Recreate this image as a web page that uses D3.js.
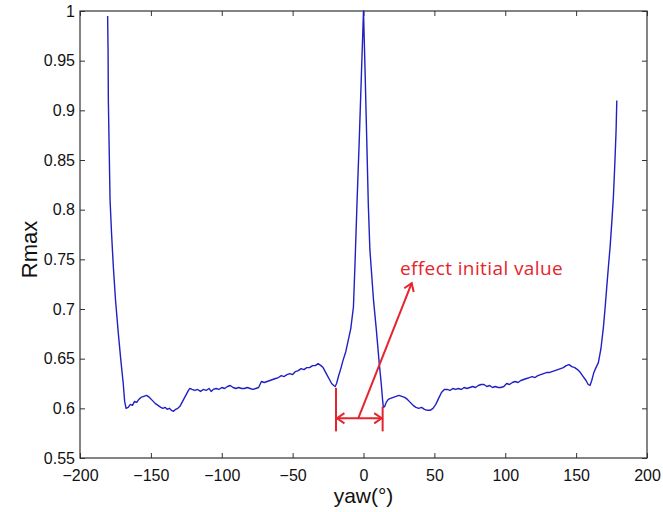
<!DOCTYPE html>
<html>
<head>
<meta charset="utf-8">
<script src="https://cdn.jsdelivr.net/npm/d3@7"></script>
<style>
  body { margin: 0; background: #fff; }
  svg { display: block; font-family: "Liberation Sans", Arial, sans-serif; }
</style>
</head>
<body>
<div class="container"></div>
<script>
const width = 663, height = 512;
const margin = { top: 11, right: 16, bottom: 54, left: 80 };

// yaw (deg) and Rmax
const yaw = [
  -180.5, -180.2, -180, -179.4, -178.8, -177.7, -176.5, -175, -173, -171.3, -169.5, -168.5, -167.5,
  -166, -164.5, -163, -161.5, -160, -158.5, -157, -155, -153, -151, -149, -147, -145, -143, -141.5,
  -140, -138.5, -137, -135.5, -134, -132.5, -131, -129.5, -128, -126.5, -125, -123.5, -122.5, -121,
  -119, -117, -115, -113, -111, -109, -107.5, -106, -104, -102, -100, -98, -96, -94, -92, -90, -88,
  -86, -84, -82, -80, -78, -76, -74, -72, -70, -68, -66, -64, -62, -60, -58, -56, -54, -52, -50,
  -48, -46, -44, -42, -40, -38, -36, -34, -32, -30, -28.5, -27, -25.5, -24, -22.5, -21, -20, -19,
  -17.5, -16, -14.5, -12.5, -10.7, -9, -7.1, -6, -4.5, -3, -1.5, 0, 1.1, 2.3, 3.4, 4.5, 5.5, 7, 9,
  11, 12.5, 13.5, 14, 15, 16, 17.5, 19, 21, 23, 25, 27, 29, 31, 33, 35, 37, 39, 41, 43, 45, 47, 49,
  51, 53, 55, 57, 59, 61, 63, 65, 67, 69, 71, 73, 75, 77, 79, 81, 83, 85, 87, 89, 91, 93, 95, 97,
  99, 101, 103, 105, 107, 109, 111, 113, 115, 117, 119, 121, 123, 125, 127, 129, 131, 133, 135, 137,
  139, 141, 143, 145, 147, 149, 151, 153, 155, 157, 158.5, 159.8, 161, 162.5, 164, 165.7, 167.5,
  169.2, 170.5, 171.6, 172.8, 174, 175.2, 176.3, 177.3, 178.2, 178.7
];
const rmax = [
  0.995, 0.96, 0.91, 0.86, 0.81, 0.775, 0.743, 0.71, 0.676, 0.65, 0.625, 0.607, 0.600,
  0.601, 0.604, 0.603, 0.607, 0.606, 0.609, 0.611, 0.612, 0.613, 0.611, 0.608, 0.605, 0.603, 0.601, 0.600,
  0.601, 0.599, 0.600, 0.598, 0.597, 0.599, 0.600, 0.602, 0.606, 0.610, 0.614, 0.618, 0.620, 0.619,
  0.618, 0.619, 0.617, 0.619, 0.618, 0.620, 0.617, 0.619, 0.620, 0.619, 0.621, 0.620, 0.622, 0.623, 0.621, 0.620, 0.621,
  0.620, 0.620, 0.621, 0.620, 0.619, 0.620, 0.621, 0.627, 0.626, 0.627, 0.628, 0.629, 0.630, 0.631, 0.633, 0.632, 0.634, 0.635, 0.634,
  0.637, 0.638, 0.640, 0.639, 0.641, 0.641, 0.643, 0.643, 0.645, 0.643, 0.641, 0.637, 0.633, 0.629, 0.625, 0.623, 0.622, 0.625,
  0.633, 0.640, 0.648, 0.657, 0.669, 0.680, 0.702, 0.745, 0.81, 0.87, 0.935, 1.0, 0.94, 0.87, 0.805, 0.76, 0.74, 0.71, 0.68,
  0.647, 0.625, 0.608, 0.601, 0.602, 0.606, 0.609, 0.610, 0.611, 0.612, 0.613, 0.612, 0.611, 0.609, 0.606, 0.603, 0.601, 0.600, 0.601, 0.599, 0.598, 0.598, 0.600,
  0.604, 0.610, 0.616, 0.619, 0.619, 0.618, 0.620, 0.619, 0.620, 0.619, 0.621, 0.620, 0.621, 0.622, 0.621, 0.623, 0.624, 0.624, 0.622, 0.623, 0.621, 0.622, 0.621, 0.621,
  0.622, 0.625, 0.624, 0.626, 0.627, 0.626, 0.628, 0.629, 0.630, 0.631, 0.632, 0.631, 0.633, 0.634, 0.635, 0.636, 0.636, 0.637, 0.638, 0.639,
  0.640, 0.641, 0.643, 0.644, 0.642, 0.641, 0.639, 0.636, 0.632, 0.628, 0.624, 0.623, 0.628, 0.636, 0.641, 0.646, 0.660,
  0.681, 0.702, 0.722, 0.743, 0.763, 0.788, 0.813, 0.846, 0.880, 0.910
];

const xTicks = [-200, -150, -100, -50, 0, 50, 100, 150, 200];
const yTicks = [0.55, 0.6, 0.65, 0.7, 0.75, 0.8, 0.85, 0.9, 0.95, 1];

// annotation: bracket ends, arrow start/end, label anchor (data units)
const bracketYaw = [-19.4, 13.5];
const bracketTop = [0.6206, 0.6015];
const bracketBottom = 0.5768;
const bracketLevel = 0.590;
const arrowFrom = [-3.7, 0.590];
const arrowTo = [34, 0.726];
const noteText = "effect initial value";
const notePos = [25.7, 0.7345];

const data = yaw.map((d, i) => ({ x: d, y: rmax[i] }));

const svg = d3.select(".container")
  .append("svg")
  .attr("width", width)
  .attr("height", height);

const x = d3.scaleLinear().domain([-200, 200]).range([margin.left, width - margin.right]);
const y = d3.scaleLinear().domain([0.55, 1]).range([height - margin.bottom, margin.top]);

const axisColor = "#333";
const tick = 5;

svg.append("g")
  .attr("transform", `translate(0,${height - margin.bottom})`)
  .call(d3.axisBottom(x).tickValues(xTicks).tickSizeInner(-tick).tickSizeOuter(0).tickPadding(12))
  .call(g => g.select(".domain").remove());

svg.append("g")
  .attr("transform", `translate(0,${margin.top})`)
  .call(d3.axisTop(x).tickValues(xTicks).tickSizeInner(-tick).tickSizeOuter(0).tickFormat(""))
  .call(g => g.select(".domain").remove());

svg.append("g")
  .attr("transform", `translate(${margin.left},0)`)
  .call(d3.axisLeft(y).tickValues(yTicks).tickSizeInner(-tick).tickSizeOuter(0).tickPadding(5)
    .tickFormat(d => String(+d.toFixed(2))))
  .call(g => g.select(".domain").remove());

svg.append("g")
  .attr("transform", `translate(${width - margin.right},0)`)
  .call(d3.axisRight(y).tickValues(yTicks).tickSizeInner(-tick).tickSizeOuter(0).tickFormat(""))
  .call(g => g.select(".domain").remove());

svg.selectAll(".tick line").attr("stroke", axisColor);
svg.selectAll(".tick text")
  .attr("font-family", "Liberation Sans, Arial, sans-serif")
  .attr("font-size", 16)
  .attr("fill", "#111");

svg.append("rect")
  .attr("x", x(-200))
  .attr("y", y(1))
  .attr("width", x(200) - x(-200))
  .attr("height", y(0.55) - y(1))
  .attr("fill", "none")
  .attr("stroke", axisColor)
  .attr("stroke-width", 1.2);

const line = d3.line().x(d => x(d.x)).y(d => y(d.y));

svg.append("path")
  .datum(data)
  .attr("fill", "none")
  .attr("stroke", "#2020c4")
  .attr("stroke-width", 1.4)
  .attr("stroke-linejoin", "round")
  .attr("d", line);

// annotation
const red = "#e5252d";
const ann = svg.append("g")
  .attr("stroke", red)
  .attr("stroke-width", 2)
  .attr("fill", "none");

bracketYaw.forEach((b, i) => {
  ann.append("line")
    .attr("x1", x(b)).attr("x2", x(b))
    .attr("y1", y(bracketTop[i])).attr("y2", y(bracketBottom));
});

const x0 = x(bracketYaw[0]), x1 = x(bracketYaw[1]), yl = y(bracketLevel);
ann.append("line").attr("x1", x0).attr("x2", x1).attr("y1", yl).attr("y2", yl);

function head(tx, ty, angle) {
  const len = 9, spread = 0.6;
  const a1 = angle + Math.PI - spread, a2 = angle + Math.PI + spread;
  return `M${tx + len * Math.cos(a1)},${ty + len * Math.sin(a1)}L${tx},${ty}L${tx + len * Math.cos(a2)},${ty + len * Math.sin(a2)}`;
}
ann.append("path").attr("d", head(x0 + 1, yl, Math.PI));
ann.append("path").attr("d", head(x1 - 1, yl, 0));

const ax0 = x(arrowFrom[0]), ay0 = y(arrowFrom[1]);
const ax1 = x(arrowTo[0]), ay1 = y(arrowTo[1]);
ann.append("line").attr("x1", ax0).attr("y1", ay0).attr("x2", ax1).attr("y2", ay1);
ann.append("path").attr("d", head(ax1, ay1, Math.atan2(ay1 - ay0, ax1 - ax0)));

svg.append("text")
  .attr("x", x(notePos[0]))
  .attr("y", y(notePos[1]))
  .attr("fill", red)
  .attr("font-family", "Open Sans, Noto Sans, sans-serif")
  .attr("font-size", 19)
  .attr("letter-spacing", 0.4)
  .text(noteText);

// axis titles
svg.append("text")
  .attr("x", x(0))
  .attr("y", 503)
  .attr("text-anchor", "middle")
  .attr("font-size", 21)
  .attr("fill", "#111")
  .text("yaw(°)");

svg.append("text")
  .attr("transform", `translate(37,${(y(0.55) + y(1)) / 2 + 15}) rotate(-90)`)
  .attr("text-anchor", "middle")
  .attr("font-size", 22)
  .attr("fill", "#111")
  .text("Rmax");
</script>
</body>
</html>
